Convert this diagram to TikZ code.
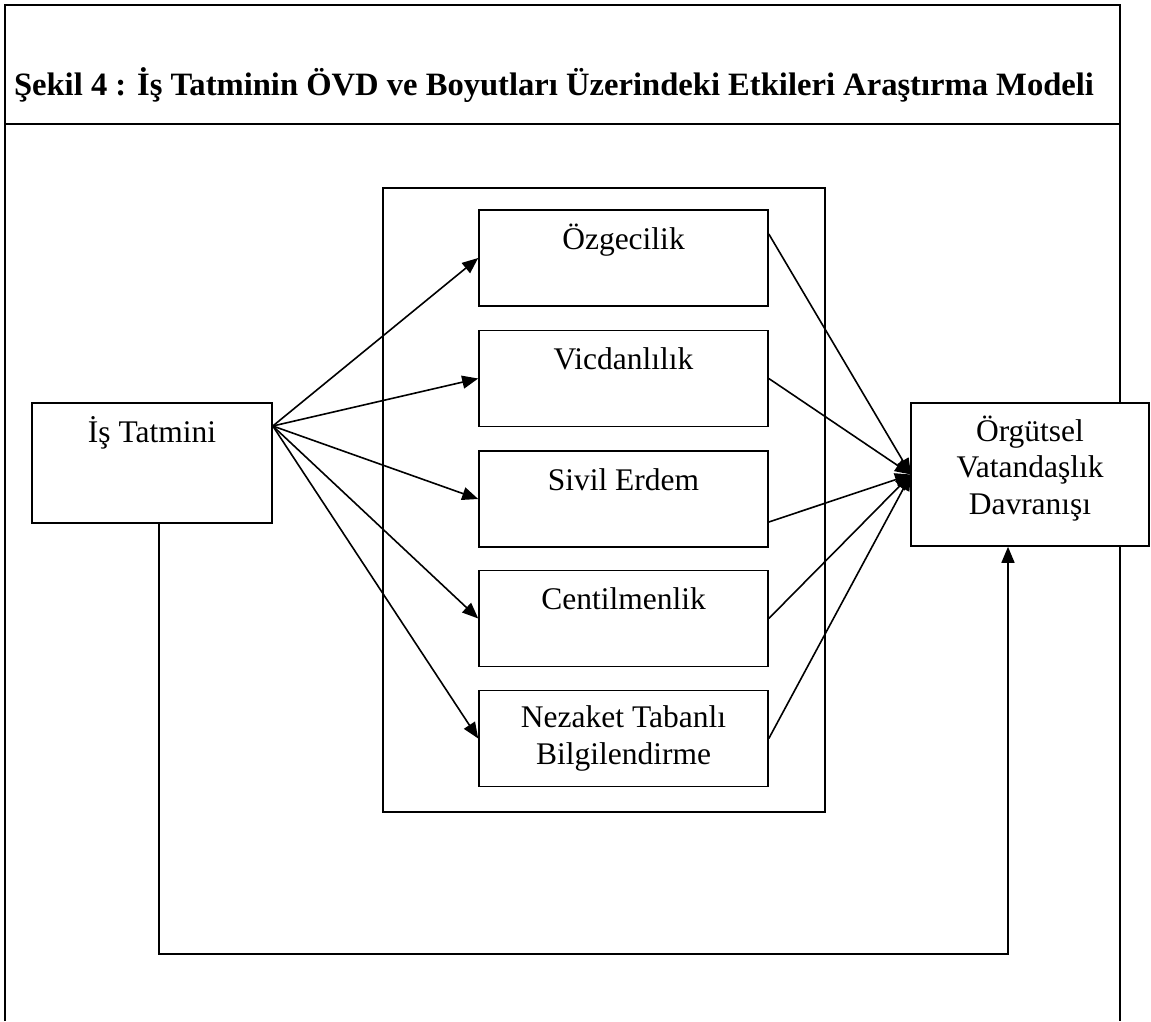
\documentclass[tikz,border=0pt]{standalone}
\usepackage{fontspec}
\setmainfont{Liberation Serif}
\usetikzlibrary{arrows.meta}
\begin{document}
\begin{tikzpicture}[x=1pt,y=-1pt,
  frame/.style={line width=2.5pt},
  box/.style={draw, line width=1.6pt, fill=white, inner sep=0pt},
  dimbox/.style={box, minimum width=289pt, minimum height=96pt},
  lbl/.style={font=\fontsize{31.5}{36.5}\selectfont, align=center, inner sep=0pt, anchor=base},
  link/.style={line width=1.6pt},
  arr/.style={link, -{Triangle[length=16pt,width=13pt]}}
]
\useasboundingbox (0,0) rectangle (1151,1021);

% outer frame and title band
\draw[frame] (5,1021) -- (5,5) -- (1120,5) -- (1120,1021);
\draw[frame] (5,124) -- (1120,124);
\node[font=\bfseries\fontsize{32.6}{38}\selectfont, anchor=base, inner sep=0pt] (title) at (554,95)
  {Şekil 4 : İş Tatminin ÖVD ve Boyutları Üzerindeki Etkileri Araştırma Modeli};

% grouping box around the dimensions
\node[box, minimum width=442pt, minimum height=624pt] (grp) at (604,500) {};

% boxes
\node[box, minimum width=240pt, minimum height=120pt] (is) at (152,463) {};
\node[dimbox] (oz) at (623.5,258) {};
\node[dimbox] (vi) at (623.5,378.5) {};
\node[dimbox] (si) at (623.5,499) {};
\node[dimbox] (ce) at (623.5,618.5) {};
\node[dimbox] (ne) at (623.5,738.5) {};

% connectors from job satisfaction to each dimension
\coordinate (fan) at ([yshift=37pt]is.east);
\foreach \t in {oz,vi,si,ce,ne} \draw[arr] (fan) -- (\t.west);

% connectors from each dimension to the outcome box
\coordinate (hub) at (911,474.5);
\draw[arr] ([yshift=24pt]oz.east) -- (hub);
\draw[arr] (vi.east) -- (hub);
\draw[arr] ([yshift=-23pt]si.east) -- (hub);
\draw[arr] (ce.east) -- (hub);
\draw[arr] (ne.east) -- (hub);

\node[box, minimum width=238pt, minimum height=143pt] (org) at (1030,474.5) {};

% direct path along the bottom
\draw[arr] ([xshift=7pt]is.south) -- ++(0,430) -| ([xshift=-22pt]org.south);

% labels
\node[lbl] (ist) at ([yshift=-40pt]is.north) {İş Tatmini};
\node[lbl] (ozt) at ([yshift=-40pt]oz.north) {Özgecilik};
\node[lbl] (vit) at ([yshift=-40pt]vi.north) {Vicdanlılık};
\node[lbl] (sit) at ([yshift=-40pt]si.north) {Sivil Erdem};
\node[lbl] (cet) at ([yshift=-40pt]ce.north) {Centilmenlik};
\node[lbl] (net) at ([yshift=-74.5pt]ne.north) {Nezaket Tabanlı\\Bilgilendirme};
\node[lbl] (orgt) at ([yshift=-112pt]org.north) {Örgütsel\\Vatandaşlık\\Davranışı};
\end{tikzpicture}
\end{document}
